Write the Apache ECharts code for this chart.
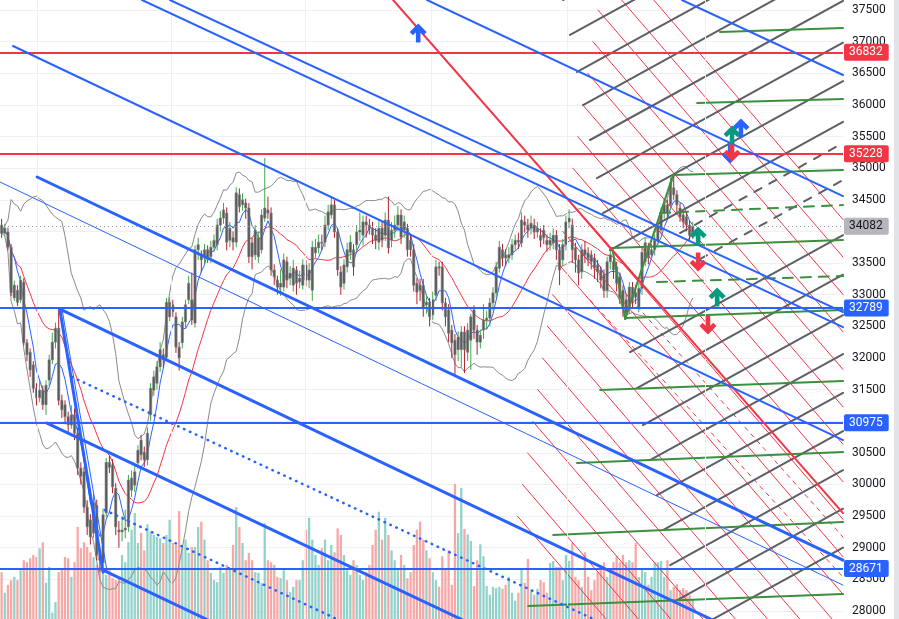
<!DOCTYPE html>
<html><head><meta charset="utf-8">
<script src="https://cdn.jsdelivr.net/npm/echarts/dist/echarts.min.js"></script>
<style>html,body{margin:0;padding:0;background:#fff;overflow:hidden}#c{width:899px;height:619px}</style>
</head><body><div id="c"></div>
<script>
const opens=[34100,33970,33990,33750,32950,33070,32920,33200,32240,32090,
31890,31520,31370,31490,31260,31650,31970,32250,32470,31330,
31260,31070,30940,31100,30810,30260,30200,29640,29440,29230,
29670,28880,28760,29550,30350,30310,29940,29280,29250,29280,
29330,29910,29990,30340,30700,30510,30390,31100,31490,31600,
31860,32050,32010,32650,32840,32650,32170,32240,32570,32920,
32920,32550,33710,33630,33580,33710,33600,33750,33790,34100,
34210,34290,33860,33900,33830,34580,34420,34450,34370,33820,
33630,33600,33710,34210,34340,34290,33390,33230,33120,33120,
33520,33260,33150,33390,33200,33150,33470,33230,33070,33660,
33740,33830,33830,34100,34260,34420,33990,33360,33180,33440,
33670,33710,33790,33990,33940,34150,34100,34050,33940,33830,
34050,33940,34180,33860,34020,34100,34260,34020,34050,33860,
33710,33180,33150,33150,32840,32880,32680,32990,33440,33440,
32870,32760,32440,32280,32130,32130,32410,32090,32280,32760,
32440,32250,32440,32600,32630,32870,33030,33420,33710,33630,
33580,33630,33790,33860,33820,34150,34100,34050,34100,33990,
33940,34020,33860,33790,33820,33940,33710,33550,33790,34150,
34100,33740,33550,33360,33710,33660,33630,33580,33470,33390,
33310,33070,33520,33520,33440,33280,33070,32920,32800,33120,
33030,32800,33100,33520,33740,33630,33710,33860,34020,34290,
34420,34420,34690,34580,34370,34260,34230,34100,33940];
const closes=[33970,34050,33750,33030,33150,32880,33230,32240,32050,31810,
31520,31370,31490,31260,31570,31970,32250,32470,31330,31180,
31070,30940,31100,30810,30260,30130,29640,29330,29170,29710,
28880,28800,29520,30350,30270,29960,29330,29250,29280,29310,
30070,30100,30200,30540,30470,30390,30810,31520,31700,31860,
32130,31970,32880,32880,32730,32170,32000,32570,32840,33180,
32600,33710,33790,33550,33710,33580,33750,33860,34100,34210,
34340,33830,34050,33830,34610,34390,34500,34370,33600,33600,
34020,33900,34260,34370,34290,33390,33280,33120,33180,33550,
33230,33340,33420,33180,33260,33470,33230,33390,33750,33750,
33830,33820,34100,34310,34420,33990,33390,33120,33470,33710,
33830,33440,33990,34020,34150,34100,34050,33940,33860,34050,
33860,34180,33740,34020,34100,34260,33910,34150,33710,33710,
33150,33040,33070,32800,32880,32650,32920,33440,33420,32870,
32650,32390,32240,32050,32330,32410,32130,32440,32650,32440,
32250,32360,32600,32630,32870,33030,33440,33750,33580,33580,
33630,33790,33860,33830,34180,34100,34020,34130,33990,34050,
33860,33900,33790,33860,33940,33710,33390,33790,34150,34210,
33710,33550,33340,33710,33630,33580,33520,33420,33360,33230,
33070,33520,33630,33390,33180,32950,32800,32710,33120,32920,
32960,33100,33670,33820,33580,33710,33860,34070,34290,34420,
34290,34770,34580,34420,34230,34150,34100,33940,34082];
const highs=[34200,34120,34060,33800,33220,33150,33300,33260,32300,32150,
31950,31600,31650,31560,31650,32050,32400,32560,32780,31420,
31330,31150,31250,31200,30900,30350,30280,29750,29530,29850,
29760,28950,29620,30420,30460,30400,30020,29420,29500,29600,
30150,30220,30300,30620,30780,30600,30900,31600,31800,31950,
32250,32150,32950,32960,32920,32720,32250,32650,32920,33300,
33350,33780,33900,33700,33800,33780,33850,33950,34200,34320,
34450,34380,34150,34000,34700,34680,34600,34520,34450,33900,
34100,34000,34350,35160,34550,34380,33480,33300,33400,33650,
33600,33450,33550,33450,33380,33560,33550,33500,33850,33880,
33950,33950,34250,34420,34560,34500,34050,33450,33560,33820,
33940,33800,34100,34300,34250,34250,34200,34150,34050,34180,
34150,34300,34550,34150,34250,34400,34350,34250,34120,33950,
33800,33260,33250,33250,33000,32950,33050,33550,33520,33520,
32950,32850,32520,32380,32420,32500,32500,32550,32700,32830,
32520,32450,32850,32750,32950,33120,33520,33850,33800,33720,
33750,33880,33950,33980,34300,34250,34200,34250,34200,34150,
34050,34100,33950,33980,34050,34020,33800,33880,34250,34350,
34200,33820,33630,33800,33850,33750,33700,33650,33550,33450,
33400,33600,33750,33600,33520,33350,33150,33000,33200,33200,
33150,33180,33750,33900,33820,33800,33950,34150,34380,34520,
34500,34850,34890,34650,34450,34330,34300,34180,34150];
const lows=[33900,33920,33700,32980,32900,32820,32870,32200,31950,31700,
31450,31250,31300,31180,31100,31560,31900,32150,31250,31050,
30950,30820,30880,30700,30150,30000,29550,29200,29050,29150,
28800,28620,28700,29480,30180,29860,29200,29000,29100,29150,
29250,29800,29880,30250,30380,30280,30300,31000,31400,31500,
31780,31850,31950,32580,32650,32080,31800,32150,32480,32850,
32520,32480,33550,33350,33480,33500,33500,33680,33700,34000,
34120,33700,33750,33700,33750,34300,34330,34200,33500,33400,
33550,33500,33650,34150,34200,33300,33150,33000,32980,33050,
33100,33150,33050,33000,33100,33080,33130,33100,32900,33580,
33650,33700,33750,34020,34200,33900,33300,33000,33080,33350,
33550,33300,33700,33850,33780,33900,33950,33800,33720,33700,
33750,33850,33650,33750,33900,34000,33800,33900,33600,33600,
33050,32850,32900,32650,32700,32500,32600,32900,33300,32750,
32500,32250,32000,31720,31950,31850,31760,31950,31810,32300,
32050,32150,32300,32450,32500,32750,32950,33350,33450,33450,
33500,33550,33700,33720,33750,33980,33900,33950,33880,33900,
33750,33800,33680,33700,33720,33550,33150,33450,33700,34050,
33500,33350,33150,33250,33500,33450,33400,33250,33200,33100,
32950,32950,33400,33250,33050,32850,32650,32630,32700,32800,
32850,32720,33000,33450,33480,33550,33620,33780,33950,34200,
34180,34350,34500,34300,34150,34050,34000,33850,33880];
const volumes=[106,75,87,94,99,94,109,124,121,127,
132,129,142,151,90,114,45,61,106,112,
129,127,99,121,174,142,151,144,136,129,
117,114,109,102,109,97,94,97,132,121,
151,170,195,150,165,139,178,167,162,159,
157,150,162,185,150,147,198,144,155,135,
144,144,174,182,155,124,105,94,91,114,
105,117,112,147,204,174,150,124,135,124,
106,105,90,180,124,121,117,99,97,109,
94,76,84,94,94,124,170,188,155,132,
117,142,155,124,147,136,172,162,132,109,
102,124,117,102,94,106,117,147,170,197,
155,188,162,139,124,109,132,117,97,106,
147,170,182,155,139,127,106,94,84,130,
112,139,87,239,165,233,171,163,153,85,
124,148,130,85,72,84,82,84,81,87,
99,75,63,75,112,90,126,78,72,81,
94,91,75,120,123,114,114,94,132,123,
150,99,94,84,136,99,79,94,106,114,
121,99,112,121,130,121,132,121,124,121,
150,99,112,106,87,99,121,121,123,99,
124,79,84,88,79,82,79,72,64];

const yTicks={min:27500,max:38000,step:500};
const priceLevels={red:[36832,35228],blue:[32789,30975,28671],last:34082};
const timeGridIdx=[11.2,53.4,95.7,135.5,178.4,221.9];

// drawings: [startIndex, startPrice, endIndex, endPrice]
const blueMain=[[214.6,37658,265.4,36472],[134.2,37658,265.4,34559],[44.3,37658,265.4,32488],[53.1,37658,265.4,32725],[3.6,36931,265.4,30702]];
const blueBold=[[11.2,34860,265.4,28804],[18.4,32773,265.4,26875],[18.4,32757,32.0,28615],[14.3,30970,265.4,25010],[32.0,28646,78.4,27540]];
const blueThin=[[-0.5,34781,265.4,28409],[19.1,32757,33.3,28615]];
const blueDotted=[[22.2,31698,188.8,27824],[32.6,29595,113.1,27698]];
const redBold=[[123.5,37658,265.4,29547]];
const redThin=[[191.2,38501,265.4,34188],[189.7,38000,265.4,33595],[188.1,37500,265.4,33004],[186.5,37000,265.4,32412],[184.9,36500,265.4,31818],[183.3,36000,265.4,31227],[181.7,35500,265.4,30635],[180.2,35000,265.4,30042],[178.6,34500,265.4,29448],[177.0,34000,265.4,28857],[175.4,33500,265.4,28265],[173.8,33000,265.4,27672],[172.2,32500,265.4,27080],[170.6,32000,265.4,26488],[169.1,31500,265.4,25895],[167.5,31000,265.4,25304],[165.9,30500,265.4,24713],[164.3,30000,265.4,24118],[162.7,29500,265.4,23527]];
const redDashed=[[185.6,32915,265.4,28536],[196.7,33026,265.4,29168]];
const grayLines=[[177.1,37658,265.4,40093],[179.3,37105,265.4,39476],[181.5,36520,265.4,38828],[183.4,35998,265.4,38259],[185.6,35445,265.4,37645],[187.8,34844,265.4,36983],[189.7,34290,265.4,36377],[191.9,33706,265.4,35732],[198.2,32093,265.4,33943],[200.4,31524,265.4,33315],[202.3,30939,265.4,32678],[204.5,30385,265.4,32061],[206.7,29832,265.4,31449],[208.6,29279,265.4,30844],[210.9,28725,265.4,30227],[213.1,28172,265.4,29616],[215.3,27619,265.4,29002]];
const grayDashed=[[214.0,33974,265.4,35397],[220.3,33563,265.4,34812]];
const greenLines=[[226.6,37152,265.4,37215],[219.4,36030,265.4,36093],[211.8,34891,265.4,34970],[192.6,33737,265.4,33864],[196.7,32630,265.4,32757],[188.8,31492,265.4,31634],[181.5,30338,265.4,30512],[174.0,29200,265.4,29405],[166.1,28077,265.4,28267],[192.6,33737,196.7,32614],[196.7,32614,211.8,34891]];
const greenDashed=[[207.7,34290,265.4,34417],[206.7,33200,265.4,33294]];
const arrowsUpBlue=[[131.4,37136],[233.2,35634]];
const arrowsUpGreen=[[230.4,35524],[219.7,33927],[225.7,32962]];
const arrowsDownRed=[[230.4,35255],[219.7,33516],[222.8,32520]];
const arrowsDownBlue=[[229.8,35223]];

const FONT='Roboto, "Liberation Sans", sans-serif';
const chart=echarts.init(document.getElementById('c'));

function sma(arr,n){return arr.map((_,i)=>{const s=Math.max(0,i-n+1);let t=0;for(let j=s;j<=i;j++)t+=arr[j];return t/(i-s+1);});}
function bands(arr,n,k){const m=sma(arr,n);const up=[],lo=[];arr.forEach((_,i)=>{const s=Math.max(0,i-n+1);let v=0;for(let j=s;j<=i;j++)v+=(arr[j]-m[i])**2;const sd=Math.sqrt(v/(i-s+1));up.push(m[i]+k*sd);lo.push(m[i]-k*sd);});return {m,up,lo};}
const bb=bands(closes,20,2);
const fast=sma(closes,5);
const pts=a=>a.map((v,i)=>[i,v]);

const candles=opens.map((o,i)=>[i,o,closes[i],lows[i],highs[i]]);
const vols=volumes.map((v,i)=>[i,v,closes[i]>=opens[i]?1:0]);

const series=[];
series.push({type:'custom',yAxisIndex:1,data:vols,z:1,silent:true,clip:true,
 renderItem:(p,api)=>{const a=api.coord([api.value(0),0]),b=api.coord([api.value(0),api.value(1)]);const w=2.3;
  return {type:'rect',shape:{x:a[0]-w/2,y:b[1],width:w,height:a[1]-b[1]},style:{fill:api.value(2)?'#92d2cb':'#f6a8a6'}};}});
series.push({type:'line',data:[],z:0,silent:true,markLine:{symbol:'none',silent:true,animation:false,label:{show:false},
 lineStyle:{color:'#eef0f4',width:1,type:'solid'},data:timeGridIdx.map(v=>({xAxis:v}))}});
const lineOf=(d,color,width,type,z)=>({type:'line',data:[[d[0],d[1]],[d[2],d[3]]],symbol:'none',silent:true,clip:true,z:z||4,lineStyle:{color,width,type:type||'solid',cap:'round'}});
series.push({type:'line',data:pts(bb.up),symbol:'none',silent:true,z:2,lineStyle:{color:'#8a8a8a',width:1}});
series.push({type:'line',data:pts(bb.lo),symbol:'none',silent:true,z:2,lineStyle:{color:'#8a8a8a',width:1}});
series.push({type:'line',data:pts(bb.m),symbol:'none',silent:true,z:2,lineStyle:{color:'#f23645',width:1}});
series.push({type:'line',data:pts(fast),symbol:'none',silent:true,z:2,lineStyle:{color:'#2962ff',width:1}});
series.push({type:'custom',data:candles,z:3,silent:true,clip:true,
 renderItem:(p,api)=>{const x=api.value(0),o=api.value(1),c=api.value(2),l=api.value(3),h=api.value(4);
  const po=api.coord([x,o]),pc=api.coord([x,c]),pl=api.coord([x,l]),ph=api.coord([x,h]);
  const bw=api.size([1,0])[0]*0.72;const up=c>=o;
  const top=Math.min(po[1],pc[1]),ht=Math.max(1,Math.abs(po[1]-pc[1]));
  return {type:'group',children:[
   {type:'line',shape:{x1:po[0],y1:ph[1],x2:po[0],y2:pl[1]},style:{stroke:up?'#3ea94a':'#b3202f',lineWidth:1}},
   {type:'rect',shape:{x:po[0]-bw/2,y:top,width:bw,height:ht},style:{fill:'#5a5a5a',stroke:'#7e7e7e',lineWidth:0.6}}]};}});
redThin.forEach(d=>series.push(lineOf(d,'#f23645',1,'solid',4)));
redDashed.forEach(d=>series.push(lineOf(d,'#f23645',1,[4,5],4)));
grayLines.forEach(d=>series.push(lineOf(d,'#5d5f66',2,'solid',4)));
grayDashed.forEach(d=>series.push(lineOf(d,'#5d5f66',2,[8,9],4)));
greenLines.forEach(d=>series.push(lineOf(d,'#3d8f3f',2,'solid',4)));
greenDashed.forEach(d=>series.push(lineOf(d,'#3d8f3f',2,[10,8],4)));
redBold.forEach(d=>series.push(lineOf(d,'#f23645',2,'solid',5)));
blueMain.forEach(d=>series.push(lineOf(d,'#2962ff',2,'solid',5)));
blueBold.forEach(d=>series.push(lineOf(d,'#2962ff',3,'solid',5)));
blueThin.forEach(d=>series.push(lineOf(d,'#2962ff',1,'solid',5)));
blueDotted.forEach(d=>series.push(lineOf(d,'#2962ff',2.5,[0.5,6],5)));

const badge=(bg,fg)=>({show:true,position:'end',distance:1,formatter:p=>String(p.value),backgroundColor:bg,color:fg,padding:[3,6,2,5],borderRadius:2,fontSize:12,fontFamily:FONT});
const ml=[];
priceLevels.red.forEach(v=>ml.push({yAxis:v,lineStyle:{color:'#f23645',width:2,type:'solid'},label:badge('#f23645','#fff')}));
priceLevels.blue.forEach(v=>ml.push({yAxis:v,lineStyle:{color:'#2962ff',width:2,type:'solid'},label:badge('#2962ff','#fff')}));
ml.push({yAxis:priceLevels.last,lineStyle:{color:'#9598a1',width:1,type:[1,3]},label:badge('#b4b6bb','#131722')});
series.push({type:'line',data:[],z:6,silent:true,markLine:{symbol:'none',silent:true,animation:false,data:ml}});

const ARROW='path://M8.5,0 L17,8.5 L13.8,11.7 L10.8,8.7 L10.8,19 L6.2,19 L6.2,8.7 L3.2,11.7 L0,8.5 Z';
const arrowSeries=(data,color,rot)=>({type:'scatter',data,symbol:ARROW,symbolSize:[17,19],symbolRotate:rot,silent:true,z:7,itemStyle:{color,opacity:1}});
series.push(arrowSeries(arrowsDownBlue,'#2962ff',180));
series.push(arrowSeries(arrowsUpBlue,'#2962ff',0));
series.push(arrowSeries(arrowsDownRed,'#f23645',180));
series.push(arrowSeries(arrowsUpGreen,'#089981',0));

chart.setOption({
 animation:false,
 backgroundColor:'#ffffff',
 textStyle:{fontFamily:FONT},
 grid:{left:0,right:56,top:-21.63,bottom:-23.6,containLabel:false,outerBoundsMode:'none'},
 xAxis:{type:'value',min:-0.505,max:265.4,show:false,splitLine:{show:false}},
 yAxis:[{type:'value',position:'right',min:yTicks.min,max:yTicks.max,interval:yTicks.step,
   axisLine:{show:false},axisTick:{show:false},
   axisLabel:{color:'#131722',fontSize:12,fontFamily:FONT,margin:9,formatter:v=>String(v)},
   splitLine:{show:true,lineStyle:{color:'#eef0f4',width:1}}},
  {type:'value',min:0,max:1000,show:false,splitLine:{show:false}}],
 graphic:[{type:'rect',right:0,top:0,shape:{width:5,height:619},style:{fill:'#e2e3e6'},z:100}],
 series
});
</script></body></html>
